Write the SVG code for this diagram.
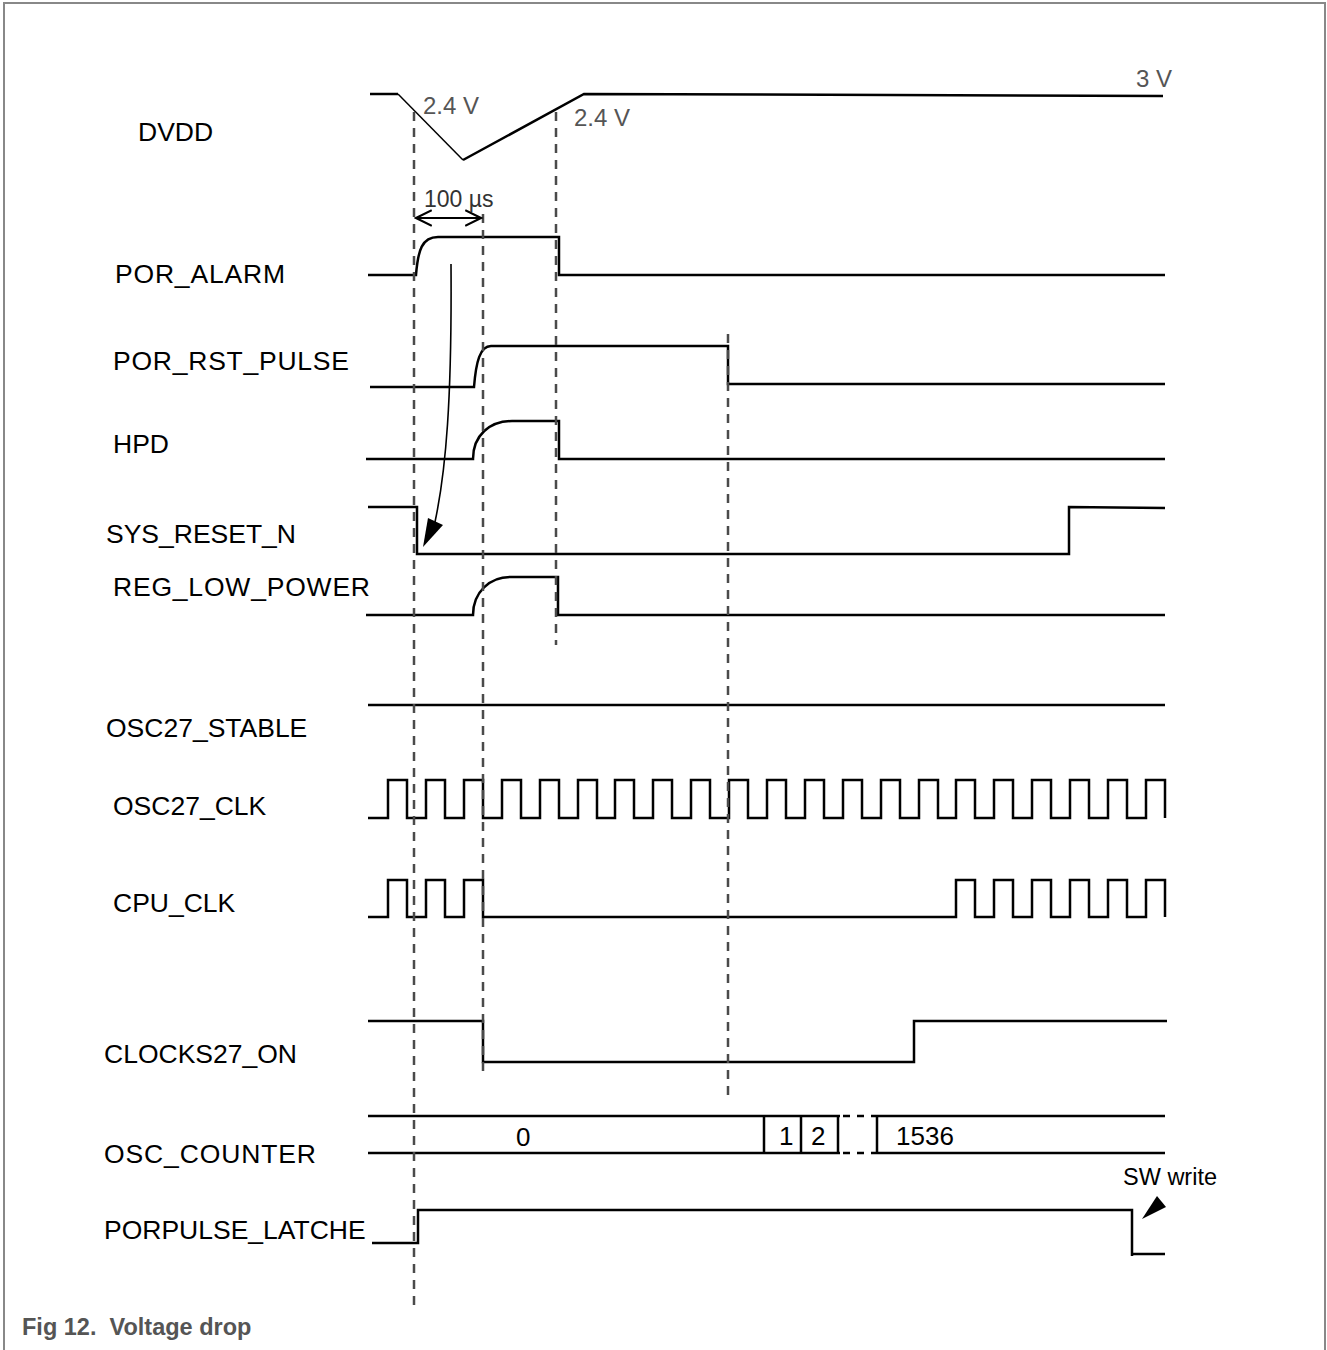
<svg xmlns="http://www.w3.org/2000/svg" width="1327" height="1350" viewBox="0 0 1327 1350">
<style>
.sig{fill:none;stroke:#000;stroke-width:2.5;stroke-linejoin:miter}
.lbl{font-family:"Liberation Sans",Arial,sans-serif;font-size:26.5px;fill:#000}
.val{font-family:"Liberation Sans",Arial,sans-serif;font-size:24px;fill:#555}
.num{font-family:"Liberation Sans",Arial,sans-serif;font-size:26px;fill:#000}
.dash{fill:none;stroke:#4a4a4a;stroke-width:2.5;stroke-dasharray:9,7}
.cap{font-family:"Liberation Sans",Arial,sans-serif;font-size:23.5px;font-weight:bold;fill:#555}
</style>
<defs>
<marker id="open" markerUnits="userSpaceOnUse" markerWidth="18" markerHeight="18" refX="14" refY="8" orient="auto-start-reverse" viewBox="0 0 16 16">
<path d="M0,1 L14,8 L0,15" fill="none" stroke="#000" stroke-width="1.8"/>
</marker>
</defs>
<rect width="1327" height="1350" fill="#fff"/>
<path d="M4,1350 V3 H1325 V1350" fill="none" stroke="#888" stroke-width="2"/>

<g id="DVDD">
<text class="lbl" x="138" y="141">DVDD</text>
<path class="sig" d="M370,94 H398" />
<path d="M398,94 L463,160" fill="none" stroke="#000" stroke-width="1.5"/>
<path class="sig" d="M463,160 L584,94 L1163,96"/>
<text class="val" x="423" y="114">2.4 V</text>
<text class="val" x="574" y="126">2.4 V</text>
<text class="val" x="1136" y="87">3 V</text>
</g>

<g id="POR_ALARM">
<text class="lbl" x="115" y="283" textLength="170" lengthAdjust="spacing">POR_ALARM</text>
<path class="sig" d="M368,275 H416 C418,250 422,237 438,237 H559 V275 H1165"/>
</g>

<g id="POR_RST_PULSE">
<text class="lbl" x="113" y="370" textLength="236" lengthAdjust="spacing">POR_RST_PULSE</text>
<path class="sig" d="M370,387 H474 C476,362 480,346 491,346 H728 V384 H1165"/>
</g>

<g id="HPD">
<text class="lbl" x="113" y="453">HPD</text>
<path class="sig" d="M366,459 H473 C473,435 490,421 512,421 H559 V459 H1165"/>
</g>

<g id="SYS_RESET_N">
<text class="lbl" x="106" y="543">SYS_RESET_N</text>
<path class="sig" d="M368,507 H417 V554 H1069 V507 L1165,508"/>
</g>

<g id="REG_LOW_POWER">
<text class="lbl" x="113" y="596" textLength="257" lengthAdjust="spacing">REG_LOW_POWER</text>
<path class="sig" d="M366,615 H473 C473,592 490,577 510,577 H558 V615 H1165"/>
</g>

<g id="OSC27_STABLE">
<text class="lbl" x="106" y="737">OSC27_STABLE</text>
<path class="sig" d="M368,705 H1165"/>
</g>

<g id="OSC27_CLK">
<text class="lbl" x="113" y="815">OSC27_CLK</text>
<path class="sig" d="M368,818 H388 V780 H407 V818 H426 V780 H445 V818 H464 V780 H483 V818 H502 V780 H521 V818 H540 V780 H559 V818 H578 V780 H597 V818 H615 V780 H634 V818 H653 V780 H672 V818 H691 V780 H710 V818 H729 V780 H748 V818 H767 V780 H786 V818 H805 V780 H824 V818 H843 V780 H862 V818 H881 V780 H900 V818 H919 V780 H938 V818 H956 V780 H975 V818 H994 V780 H1013 V818 H1032 V780 H1051 V818 H1070 V780 H1089 V818 H1108 V780 H1127 V818 H1146 V780 H1165 V818"/>
</g>

<g id="CPU_CLK">
<text class="lbl" x="113" y="912">CPU_CLK</text>
<path class="sig" d="M368,917 H388 V880 H407 V917 H426 V880 H445 V917 H464 V880 H483 V917 H956 V880 H975 V917 H994 V880 H1013 V917 H1032 V880 H1051 V917 H1070 V880 H1089 V917 H1108 V880 H1127 V917 H1146 V880 H1165 V917"/>
</g>

<g id="CLOCKS27_ON">
<text class="lbl" x="104" y="1063">CLOCKS27_ON</text>
<path class="sig" d="M368,1021 H483 V1062 H914 V1021 H1167"/>
</g>

<g id="OSC_COUNTER">
<text class="lbl" x="104" y="1163" textLength="212" lengthAdjust="spacing">OSC_COUNTER</text>
<path class="sig" d="M368,1116 H840 M368,1153 H840 M764,1116 V1153 M801,1116 V1153 M838,1116 V1153 M877,1116 V1153 M877,1116 H1165 M877,1153 H1165"/>
<path d="M840,1116 H877 M840,1153 H877" fill="none" stroke="#000" stroke-width="2.5" stroke-dasharray="7,7" stroke-dashoffset="-3"/>
<text class="num" x="516" y="1146">0</text>
<text class="num" x="779" y="1145">1</text>
<text class="num" x="811" y="1145">2</text>
<text class="num" x="896" y="1145">1536</text>
</g>

<g id="PORPULSE_LATCHE">
<text class="lbl" x="104" y="1239">PORPULSE_LATCHE</text>
<path class="sig" d="M372,1243 H418 V1210 H1132 V1256 M1132,1254 H1165"/>
<text class="num" x="1123" y="1185" style="font-size:23.5px">SW write</text>
<polygon points="1142,1219 1157,1196 1166,1207" fill="#000"/>
</g>

<g id="connectors">
<path class="dash" d="M414,112 V1305"/>
<path class="dash" d="M483,214 V1072"/>
<path class="dash" d="M556,112 V645"/>
<path class="dash" d="M728,334 V1095"/>
<path d="M416,218 H481" fill="none" stroke="#000" stroke-width="1.8" marker-start="url(#open)" marker-end="url(#open)"/>
<text x="424" y="207" style="font-family:'Liberation Sans',Arial,sans-serif;font-size:23px;fill:#333">100 µs</text>
<path d="M451,264 C452,400 446,470 435,522" fill="none" stroke="#000" stroke-width="1.6"/>
<polygon points="423,547 428,518 443,525" fill="#000"/>
</g>

<text class="cap" x="22" y="1335" xml:space="preserve">Fig 12.  Voltage drop</text>
</svg>
